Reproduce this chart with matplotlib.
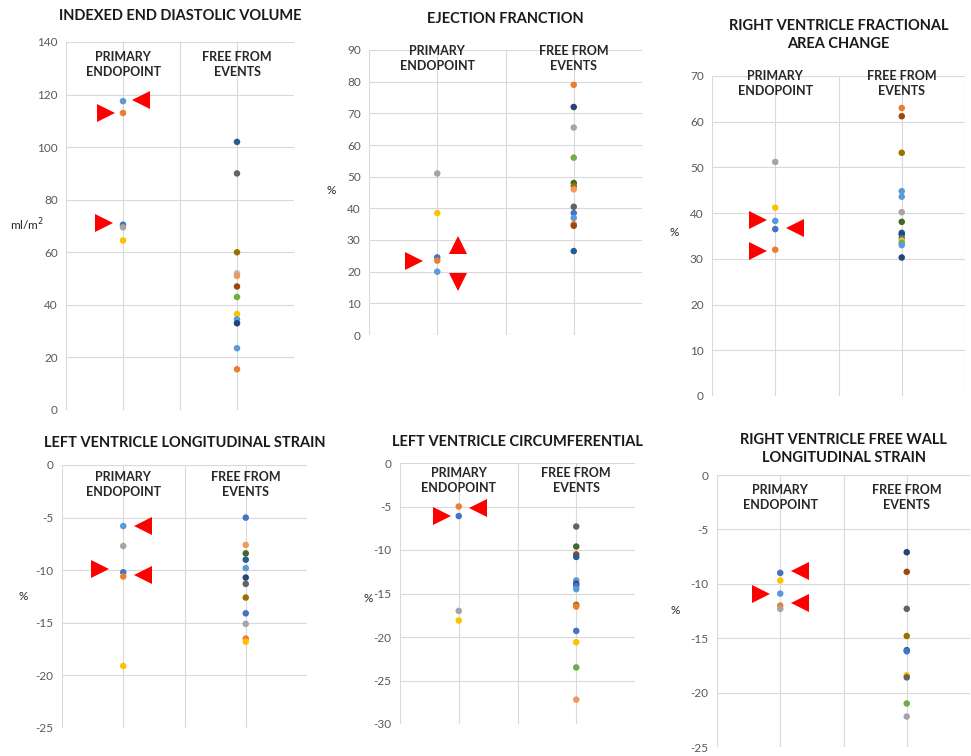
import matplotlib
matplotlib.use("Agg")
import matplotlib.pyplot as plt

plt.rcParams['font.family'] = ['Lato', 'DejaVu Sans']

W, H = 971, 756

# Excel-style palette
C = {
    'blue': '#5B9BD5', 'orange': '#ED7D31', 'gray': '#A5A5A5', 'yellow': '#FFC000',
    'dblue': '#4472C4', 'green': '#70AD47', 'navy': '#264478', 'brown': '#9E480E',
    'dgray': '#636363', 'olive': '#997300', 'steel': '#255E91', 'dgreen': '#43682B',
    'lorange': '#F1975A', 'lgray': '#B7B7B7',
}

categories = ["PRIMARY\nENDOPOINT", "FREE FROM\nEVENTS"]

# ---- Indexed end diastolic volume (ml/m2)
edv_primary = [117.5, 113.0, 70.5, 69.5, 64.5]
edv_primary_c = ['blue', 'orange', 'dblue', 'gray', 'yellow']
edv_free = [102, 90, 60, 52, 51, 47, 43, 36.5, 34.5, 33, 23.5, 15.5]
edv_free_c = ['steel', 'dgray', 'olive', 'lgray', 'lorange', 'brown', 'green',
              'yellow', 'blue', 'navy', 'blue', 'orange']
edv_arrows = [(1 - 0.15, 113.0, '>'), (1 + 0.16, 117.8, '<'), (1 - 0.17, 71.0, '>')]

# ---- Ejection fraction (%)
ef_primary = [51, 38.5, 24.5, 23.5, 20]
ef_primary_c = ['gray', 'yellow', 'dblue', 'orange', 'blue']
ef_free = [79, 72, 65.5, 56, 48, 47, 46, 40.5, 38.5, 37, 35, 34.5, 26.5]
ef_free_c = ['orange', 'navy', 'gray', 'green', 'dgreen', 'olive', 'lorange',
             'dgray', 'dblue', 'blue', 'orange', 'brown', 'steel']
ef_arrows = [(1 - 0.17, 23.4, '>'), (1 + 0.15, 28.4, '^'), (1 + 0.15, 16.7, 'v')]

# ---- Right ventricle fractional area change (%)
fac_primary = [51.2, 41.2, 38.3, 36.5, 32]
fac_primary_c = ['gray', 'yellow', 'blue', 'dblue', 'orange']
fac_free = [63, 61.2, 53.2, 44.8, 43.6, 40.2, 38.1, 35.7, 35.3, 34.5, 34.0, 33.5, 33, 30.3]
fac_free_c = ['orange', 'brown', 'olive', 'blue', 'blue', 'gray', 'dgreen', 'steel',
              'navy', 'dblue', 'yellow', 'green', 'blue', 'navy']
fac_arrows = [(1 - 0.14, 38.5, '>'), (1 + 0.16, 36.8, '<'), (1 - 0.14, 31.7, '>')]

# ---- Left ventricle longitudinal strain (%)
lvls_primary = [-5.8, -7.7, -10.2, -10.6, -19.1]
lvls_primary_c = ['blue', 'gray', 'dblue', 'orange', 'yellow']
lvls_free = [-5, -7.6, -8.4, -9.0, -9.8, -10.7, -11.3, -12.6, -14.1, -15.1, -16.5, -16.8]
lvls_free_c = ['dblue', 'lorange', 'dgreen', 'steel', 'blue', 'navy', 'dgray', 'olive',
               'dblue', 'gray', 'orange', 'yellow']
lvls_arrows = [(1 + 0.16, -5.8, '<'), (1 - 0.19, -9.9, '>'), (1 + 0.16, -10.5, '<')]

# ---- Left ventricle circumferential strain (%)
lvcs_primary = [-5.0, -6.1, -17.0, -18.1]
lvcs_primary_c = ['orange', 'dblue', 'gray', 'yellow']
lvcs_free = [-7.3, -9.6, -10.5, -10.8, -13.5, -13.9, -14.1, -14.5, -16.3, -16.5,
             -19.3, -20.6, -23.5, -27.2]
lvcs_free_c = ['dgray', 'dgreen', 'brown', 'steel', 'blue', 'navy', 'dblue', 'blue',
               'olive', 'orange', 'dblue', 'yellow', 'green', 'lorange']
lvcs_arrows = [(1 - 0.14, -6.1, '>'), (1 + 0.16, -5.2, '<')]

# ---- Right ventricle free wall longitudinal strain (%)
rvls_primary = [-9.0, -9.7, -10.9, -12.0, -12.3]
rvls_primary_c = ['dblue', 'yellow', 'blue', 'orange', 'gray']
rvls_free = [-7.1, -8.9, -12.3, -14.8, -16.1, -16.2, -18.4, -18.6, -21.0, -22.2]
rvls_free_c = ['navy', 'brown', 'dgray', 'olive', 'steel', 'dblue', 'yellow', 'dgray',
               'green', 'gray']
rvls_arrows = [(1 + 0.16, -8.8, '<'), (1 - 0.15, -10.9, '>'), (1 + 0.16, -11.8, '<')]

panels = [
    dict(title="INDEXED END DIASTOLIC VOLUME", box=(66, 294, 42, 410), ylim=(0, 140), step=20,
         ylabel="ml/m$^2$", ylab_xy=(27, 225), title_y=16, head_y=51,
         p=edv_primary, pc=edv_primary_c, f=edv_free, fc=edv_free_c, arrows=edv_arrows),
    dict(title="EJECTION FRANCTION", box=(369, 642, 50, 335), ylim=(0, 90), step=10,
         ylabel="%", ylab_xy=(331, 191), title_y=19, head_y=45,
         p=ef_primary, pc=ef_primary_c, f=ef_free, fc=ef_free_c, arrows=ef_arrows),
    dict(title="RIGHT VENTRICLE FRACTIONAL\nAREA CHANGE", box=(712, 965, 76, 396), ylim=(0, 70),
         step=10, ylabel="%", ylab_xy=(674, 232), title_y=35, head_y=70,
         p=fac_primary, pc=fac_primary_c, f=fac_free, fc=fac_free_c, arrows=fac_arrows),
    dict(title="LEFT VENTRICLE LONGITUDINAL STRAIN", box=(62, 307, 465, 728), ylim=(-25, 0),
         step=5, ylabel="%", ylab_xy=(23, 597), title_y=443, head_y=471,
         p=lvls_primary, pc=lvls_primary_c, f=lvls_free, fc=lvls_free_c, arrows=lvls_arrows),
    dict(title="LEFT VENTRICLE CIRCUMFERENTIAL", box=(400, 635, 463, 724), ylim=(-30, 0),
         step=5, ylabel="%", ylab_xy=(368, 598), title_y=442, head_y=467,
         p=lvcs_primary, pc=lvcs_primary_c, f=lvcs_free, fc=lvcs_free_c, arrows=lvcs_arrows),
    dict(title="RIGHT VENTRICLE FREE WALL\nLONGITUDINAL STRAIN", box=(717, 970, 475, 747),
         ylim=(-25, 0), step=5, ylabel="%", ylab_xy=(675, 611), title_y=449, head_y=484,
         p=rvls_primary, pc=rvls_primary_c, f=rvls_free, fc=rvls_free_c, arrows=rvls_arrows),
]

fig = plt.figure(figsize=(W / 100, H / 100), dpi=100)
fig.patch.set_facecolor('white')

GRID = '#D9D9D9'
TICK = '#595959'

for pnl in panels:
    x0, x1, y0, y1 = pnl['box']
    ax = fig.add_axes([x0 / W, 1 - y1 / H, (x1 - x0) / W, (y1 - y0) / H])
    lo, hi = pnl['ylim']
    ax.set_xlim(0.5, 2.5)
    ax.set_ylim(lo, hi)
    ticks = list(range(lo, hi + 1, pnl['step']))
    ax.set_yticks(ticks)
    ax.set_yticklabels([str(t) for t in ticks], color=TICK, fontsize=8.5)
    ax.set_xticks([])
    for s in ax.spines.values():
        s.set_visible(False)
    ax.tick_params(axis='y', length=0, pad=6)
    for t in ticks:
        ax.axhline(t, color=GRID, lw=0.8, zorder=0)
    for xv in [0.5, 1.0, 1.5, 2.0, 2.5]:
        ax.axvline(xv, color=GRID, lw=0.8, zorder=0)

    ax.scatter([1] * len(pnl['p']), pnl['p'], c=[C[k] for k in pnl['pc']], s=22,
               zorder=3, linewidths=0)
    ax.scatter([2] * len(pnl['f']), pnl['f'], c=[C[k] for k in pnl['fc']], s=22,
               zorder=3, linewidths=0)

    for ax_x, ax_y, mk in pnl['arrows']:
        ax.plot(ax_x, ax_y, marker=mk, color='#FF0000', markersize=13, linestyle='none',
                zorder=4, markeredgewidth=0)

    # category headers at the top of each column
    for i, cat in enumerate(categories):
        xc = x0 + (i + 0.5) * (x1 - x0) / 2
        fig.text(xc / W, 1 - pnl['head_y'] / H, cat, ha='center', va='top',
                 fontsize=9, fontweight='bold', color='#262626', linespacing=1.3)

    fig.text((x0 + x1) / 2 / W, 1 - pnl['title_y'] / H, pnl['title'], ha='center',
             va='center', fontsize=10.5, fontweight='bold', color='#1a1a1a', linespacing=1.4)
    lx, ly = pnl['ylab_xy']
    fig.text(lx / W, 1 - ly / H, pnl['ylabel'], ha='center', va='center',
             fontsize=8.5, color='#262626')

fig.savefig('out.png', dpi=100)
